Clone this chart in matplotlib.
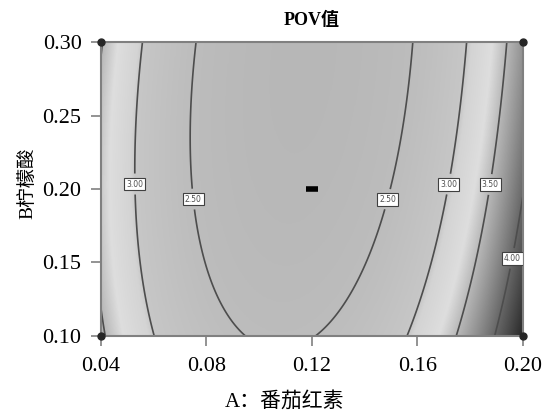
import numpy as np
import matplotlib.pyplot as plt
from matplotlib.colors import LinearSegmentedColormap, Normalize

# contour lines: A (番茄红素) positions at given B (柠檬酸) rows
rows_B = [0.300, 0.284, 0.256, 0.229, 0.200, 0.171, 0.144, 0.120, 0.104, 0.100]
L1_A = [0.0559, 0.0544, 0.0533, 0.0533, 0.0529, 0.0540, 0.0555, 0.0578, 0.0593, 0.0597]
L2_A = [0.0764, 0.0753, 0.0737, 0.0737, 0.0745, 0.0768, 0.0806, 0.0859, 0.0927, 0.0946]
L3_A = [0.1579, 0.1568, 0.1560, 0.1541, 0.1500, 0.1450, 0.1393, 0.1314, 0.1230, 0.1204]
L4_A = [0.1788, 0.1776, 0.1761, 0.1742, 0.1712, 0.1685, 0.1647, 0.1602, 0.1572, 0.1553]
L5_A = [0.1939, 0.1936, 0.1913, 0.1901, 0.1860, 0.1845, 0.1810, 0.1780, 0.1754, 0.1750]
L6_B = [0.201, 0.171, 0.144, 0.120, 0.104, 0.100]
L6_A = [0.2000, 0.1977, 0.1958, 0.1920, 0.1901, 0.1886]

levels = [2.50, 3.00, 3.50, 4.00]
line_data = [(L1_A, rows_B, levels[1]), (L2_A, rows_B, levels[0]),
             (L3_A, rows_B, levels[0]), (L4_A, rows_B, levels[1]),
             (L5_A, rows_B, levels[2]), (L6_A, L6_B, levels[3])]

# label spots (A, B)
label_A = [0.0529, 0.0753, 0.1484, 0.1716, 0.1864, 0.1951]
label_B = [0.2034, 0.1932, 0.1932, 0.2034, 0.2034, 0.1531]

xticks = [0.04, 0.08, 0.12, 0.16, 0.20]
yticks = [0.10, 0.15, 0.20, 0.25, 0.30]


def coded(a, b):
    return (np.asarray(a) - 0.12) / 0.08, (np.asarray(b) - 0.20) / 0.10


def feats(x, y):
    return np.stack([np.ones_like(x), x, y, x * x, x * y, y * y,
                     x ** 3, x * x * y, x * y * y, y ** 3, x ** 4, x ** 3 * y], axis=-1)


# fit a response surface through the read contour points
px, py, pv = [], [], []
for a, b, v in line_data:
    x, y = coded(a, b)
    px.extend(x); py.extend(y); pv.extend([v] * len(x))
px, py, pv = np.array(px), np.array(py), np.array(pv)
coef, *_ = np.linalg.lstsq(feats(px, py), pv, rcond=None)

A = np.linspace(0.04, 0.20, 400)
B = np.linspace(0.10, 0.30, 400)
AA, BB = np.meshgrid(A, B)
Z = feats(*coded(AA, BB)) @ coef

vmin = min(Z.min(), levels[0] - 0.1)
vmax = max(Z.max(), levels[-1] + 0.1)
nodes = [(vmin, 0.72), (levels[0], 0.74), (levels[1], 0.78), (levels[1] + 0.05, 0.83),
         (levels[1] + 0.3, 0.87), (levels[2], 0.72), (levels[3], 0.40), (vmax, 0.15)]
cmap = LinearSegmentedColormap.from_list(
    'pov', [((v - vmin) / (vmax - vmin), (g, g, g)) for v, g in nodes])

fig = plt.figure(figsize=(5.42, 4.12), dpi=100)
ax = fig.add_axes([0.1863, 0.1845, 0.7786, 0.7135])

ax.imshow(Z, extent=(0.04, 0.20, 0.10, 0.30), origin='lower', aspect='auto',
          cmap=cmap, norm=Normalize(vmin, vmax), interpolation='bilinear')
cs = ax.contour(AA, BB, Z, levels=levels, colors='0.3', linewidths=1.2)
txts = ax.clabel(cs, fmt='%.2f', fontsize=5.5, inline=True, inline_spacing=2,
                 manual=list(zip(label_A, label_B)))
for t in txts:
    t.set_rotation(0)
    t.set_bbox(dict(boxstyle='square,pad=0.25', fc='white', ec='0.25', lw=0.8))

# design points
ax.plot([0.04, 0.20, 0.04, 0.20], [0.10, 0.10, 0.30, 0.30], 'o', color='0.15',
        ms=5, clip_on=False, zorder=5)
ax.plot([0.12], [0.20], marker='_', color='black', ms=9, mew=4, zorder=5)

ax.set_xlim(0.04, 0.20)
ax.set_ylim(0.10, 0.30)
ax.set_xticks(xticks)
ax.set_yticks(yticks)
ax.set_xticklabels([f'{v:.2f}' for v in xticks])
ax.set_yticklabels([f'{v:.2f}' for v in yticks])
for s in ax.spines.values():
    s.set_color('0.5')
    s.set_linewidth(1.5)
ax.tick_params(length=7, width=1.2, color='0.5', labelsize=16)
ax.tick_params(axis='x', pad=8)
ax.tick_params(axis='y', pad=7)
for lab in ax.get_xticklabels() + ax.get_yticklabels():
    lab.set_family(['Liberation Serif'])

fam = ['Liberation Serif', 'Noto Sans CJK SC']
ax.set_title('POV值', family=fam, fontsize=13, fontweight='bold', pad=12)
ax.set_xlabel('A：番茄红素', family=fam, fontsize=15)
ax.set_ylabel('B柠檬酸', family=fam, fontsize=14)
ax.xaxis.set_label_coords((285 - 101) / 422, -0.19)
ax.yaxis.set_label_coords(-0.153, 0.52)

fig.savefig('out.png', dpi=100)
